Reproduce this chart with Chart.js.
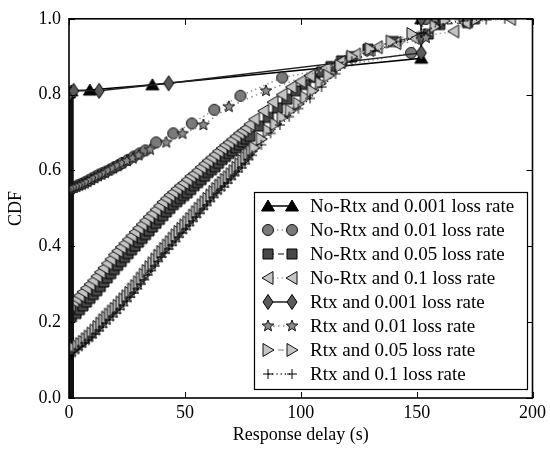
<!DOCTYPE html>
<html>
<head>
<meta charset="utf-8">
<script src="https://cdn.jsdelivr.net/npm/chart.js@4.4.1/dist/chart.umd.min.js"></script>
<style>
  html, body { margin: 0; padding: 0; background: #fff; }
</style>
</head>
<body>
<canvas id="cdfChart" width="550" height="449"></canvas>
<script>
const FONT = "'Liberation Serif', 'Times New Roman', serif";

const seriesLabels = [
  "No-Rtx and 0.001 loss rate",
  "No-Rtx and 0.01 loss rate",
  "No-Rtx and 0.05 loss rate",
  "No-Rtx and 0.1 loss rate",
  "Rtx and 0.001 loss rate",
  "Rtx and 0.01 loss rate",
  "Rtx and 0.05 loss rate",
  "Rtx and 0.1 loss rate",
];

const xTicks = [0, 50, 100, 150, 200];
const yTicks = [0, 0.2, 0.4, 0.6, 0.8, 1.0];

// [delay (s), CDF] pairs
const noRtx0001 = [[0,0],[0,0.805],[1,0.81],[9,0.812],[36,0.826],[152,0.896],[152,1.0]];

const noRtx001 = [[0,0],[0,0.55],[1,0.553],[2.5,0.557],[4,0.561],[5.5,0.565],[7,0.569],[8.5,0.574],
  [10,0.579],[11.5,0.584],[13,0.589],[14.5,0.593],[16,0.597],[18,0.603],[19.7,0.609],[21.5,0.614],
  [23,0.62],[25.5,0.628],[28,0.637],[30.5,0.645],[33,0.653],[37.6,0.674],[45,0.698],[53,0.724],
  [62.7,0.76],[74,0.797],[92,0.845],[147.6,0.91],[154,1.0]];

const noRtx005 = [[0,0],[0,0.21],[1,0.214],[3,0.223],[4.5,0.233],[6,0.243],[7.5,0.253],[9,0.263],
  [10.5,0.273],[12,0.283],[13.5,0.294],[15,0.306],[16.5,0.317],[18,0.328],[19.5,0.339],[21,0.35],
  [22.5,0.36],[24,0.371],[25.5,0.381],[27,0.391],[28.5,0.401],[30,0.411],[31.5,0.421],[33,0.431],
  [34.5,0.441],[36,0.451],[37.5,0.461],[39,0.471],[40.5,0.481],[42,0.491],[43.5,0.5],[45,0.51],
  [46.5,0.518],[48,0.526],[49.5,0.534],[51,0.541],[52.5,0.55],[54,0.56],[55.5,0.568],[57,0.576],
  [58.5,0.585],[60,0.595],[61.5,0.602],[63,0.61],[64.5,0.619],[66,0.629],[67.5,0.637],[69,0.645],
  [70.5,0.652],[72,0.66],[73.5,0.668],[75,0.675],[76.5,0.683],[78,0.69],[82,0.717],[86,0.74],
  [90,0.765],[94,0.788],[98,0.81],[102,0.827],[106,0.846],[109,0.86],[113,0.874],[117.6,0.889],
  [122,0.9],[129,0.92],[140,0.94],[155,0.96],[160,0.985],[172,0.99],[175,1.0]];

const noRtx01 = [[0,0],[0,0.24],[0.5,0.245],[2,0.255],[3.2,0.262],[4.5,0.27],[6,0.28],[7.5,0.29],
  [9,0.3],[10.5,0.31],[12,0.321],[13.5,0.332],[15,0.343],[16.5,0.355],[18,0.366],[19.5,0.378],
  [21,0.388],[22.5,0.398],[24,0.408],[25.5,0.418],[27,0.428],[28.5,0.438],[30,0.448],[31.5,0.458],
  [33,0.468],[34.5,0.478],[36,0.487],[37.5,0.497],[39,0.507],[40.5,0.517],[42,0.526],[43.5,0.535],
  [45,0.543],[46.5,0.552],[48,0.56],[49.5,0.567],[51,0.576],[52.5,0.585],[54,0.592],[55.5,0.6],
  [57,0.609],[58.5,0.618],[60,0.626],[61.5,0.634],[63,0.642],[64.5,0.651],[66,0.659],[67.5,0.667],
  [69,0.674],[70.5,0.682],[72,0.69],[73.5,0.698],[75,0.705],[76.5,0.712],[78,0.722],[80,0.735],
  [84,0.757],[88,0.78],[92,0.8],[96,0.82],[100,0.835],[104,0.85],[111,0.87],[117,0.886],
  [123.6,0.906],[133,0.925],[141,0.936],[149,0.95],[166,0.967],[171,0.99],[190.5,1.0]];

const rtx0001 = [[0,0],[0,0.8],[2,0.81],[13,0.81],[43,0.83],[152,0.91],[152,0.95],[152,1.0]];

const rtx001 = [[0,0],[0,0.55],[0.8,0.551],[2,0.554],[3.2,0.557],[4.4,0.56],[5.6,0.563],[6.8,0.566],
  [8,0.57],[9.5,0.575],[11,0.58],[12.5,0.585],[14,0.589],[15.5,0.594],[17,0.6],[19,0.606],[21,0.613],
  [23,0.619],[25,0.625],[27.5,0.632],[30,0.64],[35,0.655],[42,0.674],[49,0.697],[58,0.72],[69,0.768],
  [85,0.81],[130,0.913],[154,0.95],[158,1.0]];

const rtx005 = [[0,0],[0,0.12],[0.5,0.122],[1.25,0.125],[2.5,0.13],[3.75,0.136],[5,0.142],[6.25,0.148],
  [7.5,0.155],[8.75,0.162],[10,0.17],[11.25,0.178],[12.5,0.187],[13.75,0.196],[15,0.205],[16.25,0.212],
  [17.5,0.22],[18.75,0.228],[20,0.235],[21.25,0.243],[22.5,0.252],[23.75,0.26],[25,0.268],[26.25,0.277],
  [27.5,0.286],[28.75,0.295],[30,0.305],[31.25,0.315],[32.5,0.325],[33.75,0.335],[35,0.345],
  [36.25,0.355],[37.5,0.365],[38.75,0.375],[40,0.385],[41.25,0.393],[42.5,0.402],[43.75,0.411],
  [45,0.42],[46.25,0.429],[47.5,0.438],[48.75,0.446],[50,0.455],[51.25,0.463],[52.5,0.472],
  [53.75,0.481],[55,0.49],[56.25,0.499],[57.5,0.508],[58.75,0.516],[60,0.525],[61.25,0.534],
  [62.5,0.543],[63.75,0.551],[65,0.56],[66.25,0.567],[67.5,0.575],[68.75,0.582],[70,0.59],
  [71.25,0.598],[72.5,0.607],[73.75,0.616],[75,0.625],[76.25,0.634],[77.5,0.643],[78.75,0.651],
  [80,0.66],[83,0.683],[86,0.705],[89,0.722],[92,0.74],[95.5,0.758],[99,0.776],[102,0.793],[105,0.81],
  [108.5,0.83],[112,0.85],[117,0.876],[122,0.9],[130,0.92],[139,0.94],[148,0.96],[158,0.98],
  [162,0.995],[176,1.0]];

const rtx01 = [[0,0],[0,0.11],[1,0.113],[2.5,0.12],[4,0.128],[5.5,0.136],[7,0.145],[8.5,0.152],
  [10,0.16],[11.5,0.169],[13,0.178],[14.5,0.187],[16,0.197],[17.5,0.206],[19,0.215],[20.5,0.224],
  [22,0.234],[23.5,0.244],[25,0.255],[26.5,0.266],[28,0.277],[29.5,0.288],[31,0.3],[32.5,0.312],
  [34,0.325],[35.5,0.336],[37,0.348],[38.5,0.36],[40,0.372],[41.5,0.382],[43,0.393],[44.5,0.403],
  [46,0.413],[47.5,0.424],[49,0.435],[50.5,0.445],[52,0.455],[53.5,0.466],[55,0.477],[56.5,0.487],
  [58,0.498],[59.5,0.508],[61,0.519],[62.5,0.529],[64,0.54],[65.5,0.548],[67,0.557],[68.5,0.567],
  [70,0.577],[71.5,0.587],[73,0.597],[74.5,0.607],[76,0.618],[77.5,0.629],[79,0.64],[83,0.668],
  [87,0.698],[91,0.72],[95,0.742],[99,0.763],[104,0.79],[109,0.82],[115,0.855],[122,0.888],
  [132,0.915],[143,0.94],[152,0.962],[160,0.985],[170,0.995],[180,0.998],[188,1.0]];

const seriesData = [noRtx0001, noRtx001, noRtx005, noRtx01, rtx0001, rtx001, rtx005, rtx01];

// --- matplotlib-like markers drawn on small canvases ---
function makeMarker(size, fill, edge, path) {
  const c = document.createElement("canvas");
  c.width = size;
  c.height = size;
  const g = c.getContext("2d");
  const m = size / 2;
  g.beginPath();
  path(g, m);
  if (fill) { g.fillStyle = fill; g.fill(); }
  g.lineWidth = 1;
  g.strokeStyle = edge;
  g.stroke();
  return c;
}

const triUp = makeMarker(16, "#000", "#000", (g, m) => {
  g.moveTo(m, m - 6); g.lineTo(m + 6.5, m + 5); g.lineTo(m - 6.5, m + 5); g.closePath();
});
const circ = makeMarker(14, "#7a7a7a", "#111", (g, m) => { g.arc(m, m, 5.5, 0, Math.PI * 2); });
const square = makeMarker(14, "#474747", "#000", (g, m) => { g.rect(m - 5, m - 5, 10, 10); });
const triLeft = makeMarker(16, "#c4c4c4", "#111", (g, m) => {
  g.moveTo(m - 6, m); g.lineTo(m + 5, m - 6.5); g.lineTo(m + 5, m + 6.5); g.closePath();
});
const diamond = makeMarker(18, "#5a5a5a", "#000", (g, m) => {
  g.moveTo(m, m - 7.5); g.lineTo(m + 5, m); g.lineTo(m, m + 7.5); g.lineTo(m - 5, m); g.closePath();
});
const star = makeMarker(16, "#8a8a8a", "#111", (g, m) => {
  for (let k = 0; k < 10; k++) {
    const r = k % 2 ? 2.6 : 6;
    const a = -Math.PI / 2 + (k * Math.PI) / 5;
    g.lineTo(m + r * Math.cos(a), m + r * Math.sin(a));
  }
  g.closePath();
});
const triRight = makeMarker(16, "#c4c4c4", "#111", (g, m) => {
  g.moveTo(m + 6, m); g.lineTo(m - 5, m - 6.5); g.lineTo(m - 5, m + 6.5); g.closePath();
});
const plus = makeMarker(12, null, "#000", (g, m) => {
  g.moveTo(m - 5, m); g.lineTo(m + 5, m); g.moveTo(m, m - 5); g.lineTo(m, m + 5);
});

const styles = [
  { marker: triUp, color: "#000", dash: [] },
  { marker: circ, color: "#9a9a9a", dash: [1.5, 3] },
  { marker: square, color: "#5a5a5a", dash: [6, 4] },
  { marker: triLeft, color: "#b0b0b0", dash: [1.5, 3] },
  { marker: diamond, color: "#222", dash: [] },
  { marker: star, color: "#8a8a8a", dash: [1.5, 3.5] },
  { marker: triRight, color: "#aaa", dash: [6, 4] },
  { marker: plus, color: "#222", dash: [1.2, 3] },
];

const isVertical = (s) => s.p0.parsed.x === 0 && s.p1.parsed.x === 0;

const datasets = seriesData.map((pts, i) => ({
  label: seriesLabels[i],
  data: pts.map(([x, y]) => ({ x, y })),
  showLine: true,
  borderColor: styles[i].color,
  borderWidth: 1.5,
  borderDash: styles[i].dash,
  pointStyle: styles[i].marker,
  pointRadius: (c) => (c.raw && c.raw.y === 0 ? 0 : 5),
  pointHoverRadius: 0,
  clip: 0,
  order: seriesData.length - i,
  segment: {
    borderWidth: (s) => (isVertical(s) ? 9 : undefined),
    borderColor: (s) => (isVertical(s) ? "#111" : undefined),
    borderDash: (s) => (isVertical(s) ? [] : undefined),
  },
}));

// inward ticks + full frame, like the original figure
const frameTicks = {
  id: "frameTicks",
  afterDatasetsDraw(chart) {
    const { ctx, chartArea: a, scales: { x, y } } = chart;
    ctx.save();
    ctx.strokeStyle = "#000";
    ctx.lineWidth = 1;
    ctx.beginPath();
    x.ticks.forEach((t) => {
      const px = Math.round(x.getPixelForValue(t.value)) + 0.5;
      ctx.moveTo(px, a.bottom); ctx.lineTo(px, a.bottom - 6);
      ctx.moveTo(px, a.top); ctx.lineTo(px, a.top + 6);
    });
    y.ticks.forEach((t) => {
      const py = Math.round(y.getPixelForValue(t.value)) + 0.5;
      ctx.moveTo(a.left, py); ctx.lineTo(a.left + 6, py);
      ctx.moveTo(a.right, py); ctx.lineTo(a.right - 6, py);
    });
    ctx.stroke();
    ctx.lineWidth = 1.6;
    ctx.strokeRect(a.left, a.top, a.right - a.left, a.bottom - a.top);
    ctx.restore();
  },
};

const legendBox = {
  id: "legendBox",
  afterDraw(chart) {
    const { ctx } = chart;
    const box = { left: 254, top: 192, width: 273, height: 197 };
    ctx.save();
    ctx.fillStyle = "#fff";
    ctx.fillRect(box.left, box.top, box.width, box.height);
    ctx.strokeStyle = "#000";
    ctx.lineWidth = 1.2;
    ctx.strokeRect(box.left + 0.5, box.top + 0.5, box.width, box.height);
    chart.data.datasets.forEach((ds, i) => {
      const yc = box.top + 14 + i * 24;
      const x1 = box.left + 14, x2 = box.left + 38;
      ctx.setLineDash(ds.borderDash);
      ctx.strokeStyle = ds.borderColor;
      ctx.lineWidth = 1.5;
      ctx.beginPath();
      ctx.moveTo(x1, yc);
      ctx.lineTo(x2, yc);
      ctx.stroke();
      ctx.setLineDash([]);
      const mk = ds.pointStyle;
      ctx.drawImage(mk, x1 - mk.width / 2, yc - mk.height / 2);
      ctx.drawImage(mk, x2 - mk.width / 2, yc - mk.height / 2);
      ctx.fillStyle = "#000";
      ctx.font = "19px " + FONT;
      ctx.textBaseline = "middle";
      ctx.textAlign = "left";
      ctx.fillText(ds.label, box.left + 56, yc + 1);
    });
    ctx.restore();
  },
};

new Chart(document.getElementById("cdfChart"), {
  type: "scatter",
  data: { datasets },
  options: {
    responsive: false,
    animation: false,
    events: [],
    layout: { padding: { top: 17, right: 15, left: 0, bottom: 0 } },
    plugins: {
      legend: { display: false },
      tooltip: { enabled: false },
    },
    scales: {
      x: {
        type: "linear",
        min: 0,
        max: 200,
        afterBuildTicks: (scale) => { scale.ticks = xTicks.map((v) => ({ value: v })); },
        afterFit: (scale) => { scale.height = 51; },
        grid: { display: false, drawTicks: false },
        border: { display: false },
        ticks: {
          color: "#000",
          padding: 4,
          maxRotation: 0,
          font: { family: FONT, size: 18 },
          callback: (v) => String(v),
        },
        title: {
          display: true,
          text: "Response delay (s)",
          color: "#000",
          font: { family: FONT, size: 18 },
          padding: { top: 0, bottom: 3 },
        },
      },
      y: {
        type: "linear",
        min: 0,
        max: 1,
        afterBuildTicks: (scale) => { scale.ticks = yTicks.map((v) => ({ value: v })); },
        afterFit: (scale) => { scale.width = 69; },
        grid: { display: false, drawTicks: false },
        border: { display: false },
        ticks: {
          color: "#000",
          padding: 8,
          font: { family: FONT, size: 18 },
          callback: (v) => Number(v).toFixed(1),
        },
        title: {
          display: true,
          text: "CDF",
          color: "#000",
          font: { family: FONT, size: 18 },
          padding: { top: 5, bottom: 0 },
        },
      },
    },
  },
  plugins: [frameTicks, legendBox],
});
</script>
</body>
</html>
